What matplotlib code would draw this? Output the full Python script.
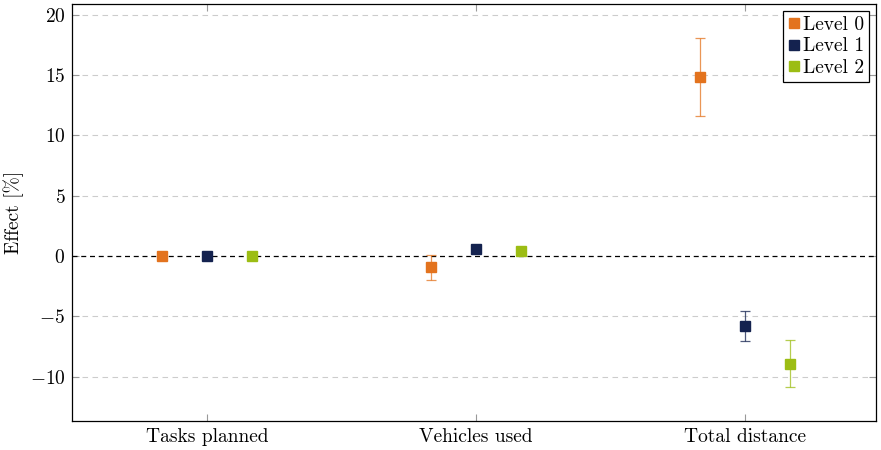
import matplotlib
matplotlib.use("Agg")
import matplotlib.pyplot as plt
from matplotlib.lines import Line2D
import numpy as np

plt.rcParams['font.family'] = 'serif'
plt.rcParams['font.serif'] = ['cmr10']
plt.rcParams['mathtext.fontset'] = 'cm'
plt.rcParams['axes.formatter.use_mathtext'] = True

categories = ['Tasks planned', 'Vehicles used', 'Total distance']
levels = ['Level 0', 'Level 1', 'Level 2']
colors = ['#E3731E', '#14224F', '#9CBD14']

# effect per level (rows) and category (columns)
level0 = [0.0, -0.95, 14.85]
level1 = [0.0, 0.6, -5.8]
level2 = [0.0, 0.45, -8.95]
err0 = [0.0, 1.0, 3.2]
err1 = [0.0, 0.0, 1.25]
err2 = [0.0, 0.0, 1.95]

values = [level0, level1, level2]
errors = [err0, err1, err2]
offsets = [-0.168, 0.0, 0.168]

fig, ax = plt.subplots(figsize=(8.81, 4.5), dpi=100)
fig.subplots_adjust(left=0.082, right=0.994, top=0.991, bottom=0.064)

x = np.arange(len(categories))
for i in range(3):
    eb = ax.errorbar(x + offsets[i], values[i], yerr=errors[i], fmt='s',
                     color=colors[i], ms=6.5, capsize=3.5, elinewidth=0.9,
                     capthick=0.9, zorder=3)
    for art in eb[1] + eb[2]:
        art.set_alpha(0.75)

ax.axhline(0, color='black', ls=(0, (4, 3)), lw=0.9, zorder=2)
for yv in [-10, -5, 5, 10, 15, 20]:
    ax.axhline(yv, color='#cccccc', ls=(0, (5, 4)), lw=0.8, zorder=1)

ax.set_xlim(-0.502, 2.487)
ax.set_ylim(-13.7, 20.9)
ax.set_xticks(x)
ax.set_xticklabels(categories, fontsize=14)
ax.set_yticks([-10, -5, 0, 5, 10, 15, 20])
ax.tick_params(axis='y', labelsize=14)
ax.tick_params(direction='in', top=True, right=True, color='#999999', length=5, pad=5)
ax.set_ylabel('Effect [%]', fontsize=14)
ax.yaxis.set_label_coords(-0.06, 0.5)

for s in ax.spines.values():
    s.set_linewidth(0.9)

handles = [Line2D([], [], marker='s', ls='none', color=c, ms=6.5) for c in colors]
leg = ax.legend(handles, levels, loc='upper right', fontsize=14, handlelength=0.6,
                handletextpad=0.15, borderpad=0.25, labelspacing=0.2, fancybox=False,
                framealpha=1, edgecolor='black', borderaxespad=0.35)
leg.get_frame().set_linewidth(0.9)

fig.savefig('out.png', dpi=100)
